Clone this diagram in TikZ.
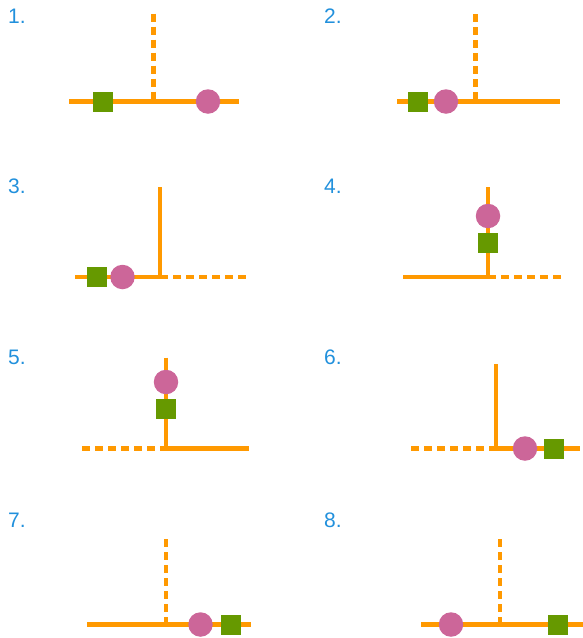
\documentclass[tikz,border=0pt]{standalone}
\usepackage{fontspec}
\setmainfont{Liberation Sans}
\usepackage{xcolor}
\definecolor{colLine}{HTML}{FF9900}
\definecolor{colSq}{HTML}{669900}
\definecolor{colDot}{HTML}{CC6699}
\definecolor{colNum}{HTML}{2190DC}
\usepackage{tikz}

\begin{document}
\begin{tikzpicture}[x=1pt, y=-1pt,
		wire/.style={colLine, line width=4.6pt},
		dwire/.style={wire, dash pattern=on 8pt off 5pt},
		sq/.style={rectangle, fill=colSq, minimum size=20pt, inner sep=0pt},
		dot/.style={circle, fill=colDot, minimum size=24.5pt, inner sep=0pt},
		num/.style={anchor=base west, inner sep=0pt, text=colNum, font=\fontsize{21}{21}\selectfont}]
	\useasboundingbox (0,0) rectangle (583,638);
	\foreach \n/\x/\y in {1/8/23, 2/324/23, 3/8/193, 4/324/193, 5/8/364, 6/324/364, 7/8/527, 8/324/527}
		\node[num] (num\n) at (\x,\y) {\n.};
	% 1.
	\coordinate (j1) at (153.5,101.5); \coordinate (l1) at (69,101.5);
	\coordinate (r1) at (239,101.5); \coordinate (t1) at (153.5,13.5);
	\draw[wire] (l1) -- (r1);
	\draw[dwire] (t1) -- (j1);
	\node[sq] (sq1) at (102.5,101.5) {};
	\node[dot] (dot1) at (208,101.5) {};
	% 2.
	\coordinate (j2) at (475.5,101.5); \coordinate (l2) at (397,101.5);
	\coordinate (r2) at (560,101.5); \coordinate (t2) at (475.5,14);
	\draw[wire] (l2) -- (r2);
	\draw[dwire] (t2) -- (j2);
	\node[sq] (sq2) at (418,101.5) {};
	\node[dot] (dot2) at (446,101.5) {};
	% 3.
	\coordinate (j3) at (160,277); \coordinate (l3) at (75,277);
	\coordinate (r3) at (246,277); \coordinate (t3) at (160,187);
	\draw[wire] (l3) -- (j3) -- (t3);
	\draw[dwire] (j3) -- (r3);
	\node[sq] (sq3) at (96.5,277) {};
	\node[dot] (dot3) at (122.5,277) {};
	% 4.
	\coordinate (j4) at (488,277); \coordinate (l4) at (403,277);
	\coordinate (r4) at (565,277); \coordinate (t4) at (488,187);
	\draw[wire] (l4) -- (j4) -- (t4);
	\draw[dwire] (j4) -- (r4);
	\node[dot] (dot4) at (488,216) {};
	\node[sq] (sq4) at (488,243) {};
	% 5.
	\coordinate (j5) at (166,448.5); \coordinate (l5) at (82,448.5);
	\coordinate (r5) at (249,448.5); \coordinate (t5) at (166,357.5);
	\draw[wire] (t5) -- (j5) -- (r5);
	\draw[dwire] (l5) -- (j5);
	\node[dot] (dot5) at (166,382) {};
	\node[sq] (sq5) at (166,409) {};
	% 6.
	\coordinate (j6) at (496,448.5); \coordinate (l6) at (411,448.5);
	\coordinate (r6) at (580,448.5); \coordinate (t6) at (496,364);
	\draw[wire] (t6) -- (j6) -- (r6);
	\draw[dwire] (l6) -- (j6);
	\node[dot] (dot6) at (525,448.5) {};
	\node[sq] (sq6) at (553.5,448.5) {};
	% 7.
	\coordinate (j7) at (166,624.5); \coordinate (l7) at (87,624.5);
	\coordinate (r7) at (251,624.5); \coordinate (t7) at (166,539);
	\draw[wire] (l7) -- (r7);
	\draw[dwire] (t7) -- (j7);
	\node[dot] (dot7) at (200.5,624.5) {};
	\node[sq] (sq7) at (230.5,624.5) {};
	% 8.
	\coordinate (j8) at (500,624.5); \coordinate (l8) at (421,624.5);
	\coordinate (r8) at (583,624.5); \coordinate (t8) at (500,539);
	\draw[wire] (l8) -- (r8);
	\draw[dwire] (t8) -- (j8);
	\node[dot] (dot8) at (451,624.5) {};
	\node[sq] (sq8) at (558,624.5) {};
\end{tikzpicture}
\end{document}
